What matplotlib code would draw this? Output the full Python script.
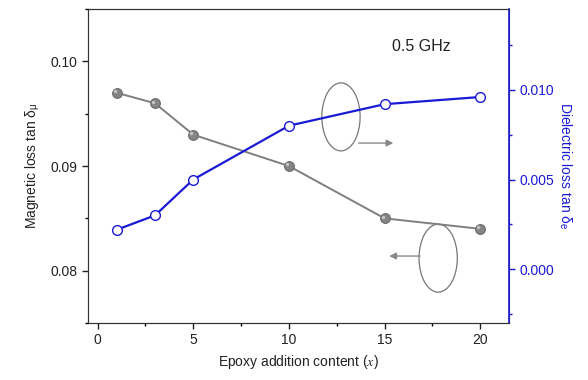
import matplotlib.pyplot as plt
from matplotlib.patches import Ellipse

plt.rcParams['font.family'] = ['Liberation Sans', 'DejaVu Sans']
plt.rcParams['mathtext.fontset'] = 'stix'

# epoxy content and the two loss tangents at 0.5 GHz
epoxy_x = [1, 3, 5, 10, 15, 20]
tan_mu = [0.097, 0.096, 0.093, 0.090, 0.085, 0.084]
tan_e = [0.0022, 0.0030, 0.0050, 0.0080, 0.0092, 0.0096]

gray = '#7f7f7f'
blue = '#1a1ad6'

fig = plt.figure(figsize=(5.88, 3.80), dpi=100)
ax = fig.add_axes([0.1497, 0.15, 0.7159, 0.826])
ax2 = ax.twinx()

ax.plot(epoxy_x, tan_mu, '-', color=gray, lw=1.4, marker='o', ms=7,
        mfc='#858585', mec='#6a6a6a', mew=0.8, zorder=3)
# small highlight to give the markers a shaded look
ax.plot([v - 0.1 for v in epoxy_x], [v + 0.00015 for v in tan_mu], 'o',
        ms=2.5, mfc='#c4c4c4', mec='none', zorder=4)

ax2.plot(epoxy_x, tan_e, '-', color=blue, lw=1.6, marker='o', ms=7,
         mfc='white', mec=blue, mew=1.0, zorder=3)

ax.set_xlim(-0.5, 21.5)
ax.set_ylim(0.075, 0.105)
ax2.set_ylim(-0.003, 0.0145)

ax.set_xticks([0, 5, 10, 15, 20])
ax.set_xticks([2.5, 7.5, 12.5, 17.5], minor=True)
ax.set_yticks([0.08, 0.09, 0.10])
ax.set_yticklabels(['0.08', '0.09', '0.10'])
ax.set_yticks([0.075, 0.085, 0.095, 0.105], minor=True)
ax2.set_yticks([0.0, 0.005, 0.010])
ax2.set_yticklabels(['0.000', '0.005', '0.010'])
ax2.set_yticks([-0.0025, 0.0025, 0.0075, 0.0125], minor=True)

for a in (ax, ax2):
    a.tick_params(axis='both', which='major', direction='out', length=4,
                  width=1, labelsize=10)
    a.tick_params(axis='both', which='minor', direction='out', length=2.5,
                  width=1)
ax.tick_params(axis='y', colors='#222222')
ax.tick_params(axis='x', colors='#222222')
ax2.tick_params(axis='y', which='both', colors=blue, labelcolor=blue)

for s in ax.spines.values():
    s.set_color('#333333')
for s in ax2.spines.values():
    s.set_color('#333333')
ax2.spines['right'].set_color(blue)
ax2.spines['right'].set_linewidth(1.2)

ax.set_xlabel(r'Epoxy addition content ($x$)', fontsize=10,
              color='#222222', labelpad=4)
ax.set_ylabel('Magnetic loss tan δ$_{\\mathregular{\u03bc}}$', fontsize=10,
              color='#222222', labelpad=6)
ax2.set_ylabel('Dielectric loss tan δ$_{\\mathregular{e}}$', fontsize=10,
               color=blue, rotation=270, labelpad=14)

ax.text(16.9, 0.1014, '0.5 GHz', fontsize=11.5, color='#222222',
        ha='center', va='center')

# ellipses with arrows pointing to the matching axis
ax.add_patch(Ellipse((12.72, 0.0947), 2.0, 0.0065, fill=False,
                     ec='#777777', lw=0.9))
ax.annotate('', xy=(15.6, 0.0922), xytext=(13.5, 0.0922),
            arrowprops=dict(arrowstyle='-|>', color='#888888', lw=1.0,
                            mutation_scale=10))
ax.add_patch(Ellipse((17.8, 0.0812), 2.0, 0.0065, fill=False,
                     ec='#777777', lw=0.9))
ax.annotate('', xy=(15.1, 0.0814), xytext=(17.0, 0.0814),
            arrowprops=dict(arrowstyle='-|>', color='#888888', lw=1.0,
                            mutation_scale=10))

fig.savefig('out.png', dpi=100)
